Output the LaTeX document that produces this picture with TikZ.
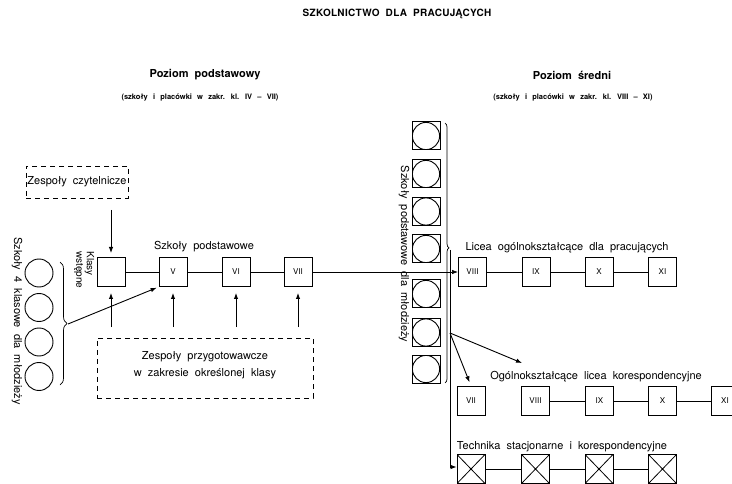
\documentclass[tikz,border=0pt]{standalone}
\usepackage{fontspec}
\setmainfont{TeX Gyre Heros}[WordSpace=2]
\newfontfamily\titlefont{TeX Gyre Heros}[LetterSpace=3,WordSpace=2]
\newfontfamily\subfont{TeX Gyre Heros}[WordSpace=2.5]
\usetikzlibrary{arrows.meta,decorations.pathreplacing}
\begin{document}
\begin{tikzpicture}[x=1pt,y=-1pt,
  box/.style={draw,line width=1pt,minimum width=28pt,minimum height=29pt,inner sep=0pt,font=\fontsize{8}{9}\selectfont},
  xbox/.style={box,path picture={\draw[line width=0.8pt] (path picture bounding box.north west) -- (path picture bounding box.south east) (path picture bounding box.north east) -- (path picture bounding box.south west);}},
  cbox/.style={draw,line width=1pt,minimum width=28pt,minimum height=28pt,inner sep=0pt,path picture={\draw[line width=0.9pt] (path picture bounding box.center) circle (13.6pt);}},
  ring/.style={circle,draw,line width=0.9pt,minimum size=28pt,inner sep=0pt},
  link/.style={line width=0.7pt},
  arr/.style={line width=0.9pt,-{Latex[length=6pt,width=4.5pt]}},
  lbl/.style={inner sep=0pt,font=\fontsize{11}{13}\selectfont},
  head/.style={inner sep=0pt,font=\fontsize{11}{13}\selectfont\bfseries},
  subl/.style={inner sep=0pt,font=\subfont\fontsize{7.5}{9}\selectfont\bfseries},
  ttl/.style={inner sep=0pt,font=\titlefont\fontsize{10}{12}\selectfont\bfseries},
  dbox/.style={draw,dash pattern=on 5pt off 4pt,line width=0.9pt,inner sep=0pt}]
\useasboundingbox (0,0) rectangle (732,484);
\clip (0,0) rectangle (732,484);

% headings
\node[ttl] (title) at (397,14) {SZKOLNICTWO DLA PRACUJĄCYCH};
\node[head] (hp) at (205,75) {Poziom podstawowy};
\node[subl] (sp) at (200,98) {(szkoły i placówki w zakr. kl. IV – VII)};
\node[head] (hs) at (572,75) {Poziom średni};
\node[subl] (ss) at (573,98) {(szkoły i placówki w zakr. kl. VIII – XI)};

% left: reading groups
\node[dbox,minimum width=102pt,minimum height=32pt,font=\fontsize{11}{13}\selectfont] (zc) at (77,182) {Zespoły czytelnicze};
\coordinate (zcs) at (111,210);

% primary school boxes
\node[box] (kw) at (111,272) {};
\node[box] (b5) at (173,272) {V};
\node[box] (b6) at (236,272) {VI};
\node[box] (b7) at (298,272) {VII};
\node[lbl,rotate=-90,align=left,font=\fontsize{10}{10.5}\selectfont] (kwl) at (84,270) {Klasy\\wstępne};
\node[lbl] (szp) at (204,247) {Szkoły podstawowe};

\draw[arr,shorten >=4pt] (zcs) -- (kw.north);
\draw[link] (kw) -- (b5) (b5) -- (b6) (b6) -- (b7);

% preparatory groups
\node[dbox,minimum width=216pt,minimum height=60pt] (zp) at (205,368) {};
\node[lbl,align=center,font=\fontsize{11}{17}\selectfont] (zpt) at (205,365) {Zespoły przygotowawcze\\w zakresie określonej klasy};
\coordinate (u1) at (111,327);
\coordinate (u2) at (173,327);
\coordinate (u3) at (236,327);
\coordinate (u4) at (298,327);
\draw[arr,shorten >=6pt] (u1) -- (kw.south);
\draw[arr,shorten >=6pt] (u2) -- (b5.south);
\draw[arr,shorten >=6pt] (u3) -- (b6.south);
\draw[arr,shorten >=6pt] (u4) -- (b7.south);

% 4-class schools
\node[ring] (c1) at (39,273) {};
\node[ring] (c2) at (39,307.5) {};
\node[ring] (c3) at (39,342) {};
\node[ring] (c4) at (39,376.5) {};
\node[lbl,rotate=-90] (c4l) at (17,321) {Szkoły 4 klasowe dla młodzieży};
\draw[line width=0.7pt,decorate,decoration={brace,amplitude=7pt}] (60,262) -- (60,385);
\coordinate (lbt) at (68,324);
\draw[arr,shorten >=2pt] (lbt) -- (b5.south west);

% primary schools for youth
\node[cbox] (m1) at (426,136) {};
\node[cbox] (m2) at (426,174) {};
\node[cbox] (m3) at (426,211.5) {};
\node[cbox] (m4) at (426,249) {};
\node[cbox] (m5) at (426,294) {};
\node[cbox] (m6) at (426,332.5) {};
\node[cbox] (m7) at (426,369) {};
\node[lbl,rotate=-90] (ml) at (404,254) {Szkoły podstawowe dla młodzieży};
\draw[line width=0.7pt,decorate,decoration={brace,amplitude=4pt,aspect=0.48}] (445,123) -- (445,383);
\coordinate (mbt) at (450,250);
\coordinate (mbr) at (450,333);
\coordinate (mbb) at (450,467);
\coordinate (oka) at (522,363);

% row 1: Licea
\node[lbl] (l1) at (567,248) {Licea ogólnokształcące dla pracujących};
\node[box] (r1a) at (472.5,272) {VIII};
\node[box] (r1b) at (536,272) {IX};
\node[box] (r1c) at (599,272) {X};
\node[box] (r1d) at (662.5,272) {XI};
\draw[link] (r1a) -- (r1b) (r1b) -- (r1c) (r1c) -- (r1d);
\draw[arr,line width=0.7pt] (b7.east) -- (r1a.west);

% row 2: correspondence
\node[lbl] (l2) at (596,377) {Ogólnokształcące licea korespondencyjne};
\node[box] (r2a) at (471,401) {VII};
\node[box] (r2b) at (535.5,401) {VIII};
\node[box] (r2c) at (599.5,401) {IX};
\node[box] (r2d) at (662.5,401) {X};
\node[box] (r2e) at (725,401) {XI};
\draw[link] (r2b) -- (r2c) (r2c) -- (r2d) (r2d) -- (r2e);

% row 3: technika
\node[lbl] (l3) at (562,447) {Technika stacjonarne i korespondencyjne};
\node[xbox] (t1) at (471,469) {};
\node[xbox] (t2) at (535.5,469) {};
\node[xbox] (t3) at (599,469) {};
\node[xbox] (t4) at (662.5,469) {};
\draw[link] (t1) -- (t2) (t2) -- (t3) (t3) -- (t4);

% branching connectors
\draw[arr,line width=0.7pt] (mbt) -- (mbb) -- (mbb -| t1.west);
\draw[arr,shorten >=4pt] (mbr) -- (r2a.north);
\draw[arr] (mbr) -- (oka);
\end{tikzpicture}
\end{document}
